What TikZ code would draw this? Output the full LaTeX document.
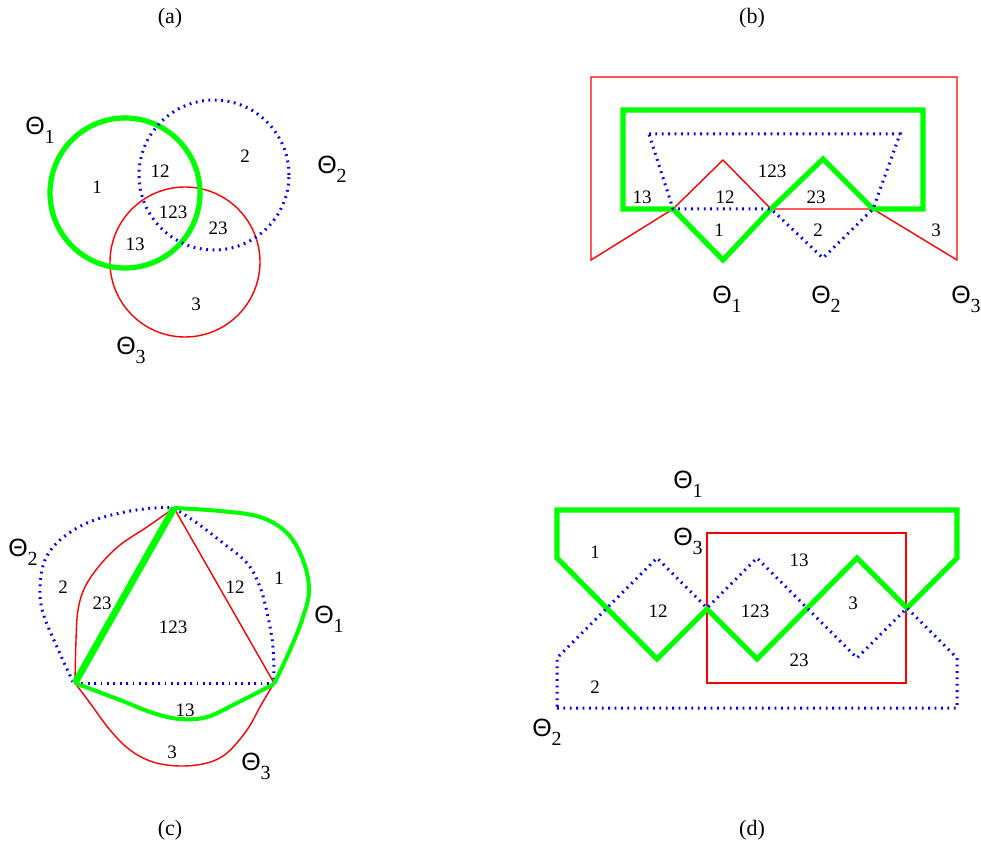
\documentclass[tikz,border=0pt]{standalone}
\usepackage{fontspec}
\setmainfont{Liberation Serif}
\setsansfont{Liberation Sans}
\usetikzlibrary{positioning}
\newcommand{\thlab}[1]{{\fontsize{12.5}{14}\selectfont\textsf{Θ}\raisebox{-4.5pt}{\fontsize{10}{11}\selectfont #1}}}

\begin{document}
\begin{tikzpicture}[x=0.5pt, y=-0.5pt,
    setone/.style={draw=green, line width=2.6pt, line join=miter},
    settwo/.style={draw=blue, line width=1.5pt, dash pattern=on 0.9pt off 2.3pt},
    setthree/.style={draw=red, line width=0.7pt},
    num/.style={font=\fontsize{9.5}{10}\selectfont, inner sep=0pt},
    theta/.style={inner sep=0pt},
    caption/.style={font=\fontsize{11}{12}\selectfont, inner sep=0pt},
  ]
  \useasboundingbox (0,0) rectangle (981,850);

  % (a) three circles
  \draw[setthree] (185,262) circle[radius=37.5pt];
  \draw[setone] (125,193) circle[radius=37.5pt];
  \draw[settwo] (214,175) circle[radius=37.5pt];
  \node[theta] (a-th1) at (40,130) {\thlab{1}};
  \node[theta] (a-th2) at (332,169) {\thlab{2}};
  \node[theta] (a-th3) at (131,350) {\thlab{3}};
  \node[num] (a-1) at (97,187) {1};
  \node[num] (a-12) at (160,171) {12};
  \node[num] (a-2) at (245,156) {2};
  \node[num] (a-123) at (173,212) {123};
  \node[num] (a-23) at (218,228) {23};
  \node[num] (a-13) at (135,244) {13};
  \node[num] (a-3) at (196,304) {3};
  \node[caption] (cap-a) at (170,18) {(a)};

  % (b) polygons
  \draw[setthree] (591,77) -- (957,77) -- (957,260) -- (873,209) -- (771,209)
    -- (723,160) -- (673,209) -- (591,260) -- cycle;
  \draw[setone] (623,110) -- (923,110) -- (923,209) -- (873,209) -- (823,159)
    -- (771,209) -- (723,260) -- (673,209) -- (623,209) -- cycle;
  \draw[settwo] (649,134) -- (900,134) -- (873,209) -- (823,258) -- (771,209)
    -- (673,209) -- cycle;
  \node[theta] (b-th1) at (727,299) {\thlab{1}};
  \node[theta] (b-th2) at (826,299) {\thlab{2}};
  \node[theta] (b-th3) at (966,299) {\thlab{3}};
  \node[num] (b-13) at (642,197) {13};
  \node[num] (b-12) at (725,197) {12};
  \node[num] (b-123) at (772,171) {123};
  \node[num] (b-23) at (816,197) {23};
  \node[num] (b-1) at (719,230) {1};
  \node[num] (b-2) at (818,230) {2};
  \node[num] (b-3) at (936,230) {3};
  \node[caption] (cap-b) at (752,18) {(b)};

  % (c) triangle with curved sides
  \draw[setthree] (174,508) -- (274,683);
  \draw[setthree] plot[smooth, tension=0.6] coordinates {(174,508) (147,527) (120,545)
    (100,565) (85,587) (78,610) (76,640) (75,683)};
  \draw[setthree] plot[smooth, tension=0.6] coordinates {(75,683) (90,703) (110,730)
    (130,750) (153,762) (180,766) (207,763) (227,753) (247,730) (260,707) (274,683)};
  \draw[settwo] (75,683) -- (274,683);
  \draw[settwo] plot[smooth, tension=0.6] coordinates {(73,682) (57,647) (43,613)
    (40,587) (45,560) (60,540) (87,523) (120,513) (153,508) (174,508)};
  \draw[settwo] plot[smooth, tension=0.6] coordinates {(174,508) (197,523) (223,543)
    (247,563) (260,587) (268,617) (273,647) (274,681)};
  \draw[setone, line width=3.4pt] (174,508) -- (75,683);
  \draw[setone, line width=2pt] plot[smooth, tension=0.6] coordinates {(75,683)
    (120,700) (153,713) (180,719) (207,717) (237,703) (274,684)};
  \draw[setone, line width=2pt] plot[smooth, tension=0.6] coordinates {(274,684)
    (290,650) (303,617) (309,590) (303,560) (287,533) (260,517) (220,511) (174,508)};
  \node[theta] (c-th1) at (329,619) {\thlab{1}};
  \node[theta] (c-th2) at (23,552) {\thlab{2}};
  \node[theta] (c-th3) at (256,766) {\thlab{3}};
  \node[num] (c-2) at (63,587) {2};
  \node[num] (c-23) at (102,603) {23};
  \node[num] (c-123) at (173,627) {123};
  \node[num] (c-12) at (235,587) {12};
  \node[num] (c-1) at (279,578) {1};
  \node[num] (c-13) at (185,710) {13};
  \node[num] (c-3) at (172,752) {3};
  \node[caption] (cap-c) at (170,830) {(c)};

  % (d) zigzag polygons and rectangle
  \draw[setthree] (707,533) rectangle (906,683);
  \draw[setone] (557,510) -- (957,510) -- (957,558) -- (907,608) -- (857,558)
    -- (757,659) -- (707,609) -- (657,659) -- (557,558) -- cycle;
  \draw[settwo] (557,708) -- (957,708) -- (957,658) -- (907,608) -- (857,658)
    -- (757,558) -- (707,608) -- (657,558) -- (557,658) -- cycle;
  \node[theta] (d-th1) at (688,484) {\thlab{1}};
  \node[theta] (d-th2) at (547,732) {\thlab{2}};
  \node[theta] (d-th3) at (688,541) {\thlab{3}};
  \node[num] (d-1) at (595,552) {1};
  \node[num] (d-12) at (658,611) {12};
  \node[num] (d-123) at (755,611) {123};
  \node[num] (d-13) at (799,560) {13};
  \node[num] (d-3) at (853,603) {3};
  \node[num] (d-23) at (799,660) {23};
  \node[num] (d-2) at (595,687) {2};
  \node[caption] (cap-d) at (752,830) {(d)};
\end{tikzpicture}
\end{document}
